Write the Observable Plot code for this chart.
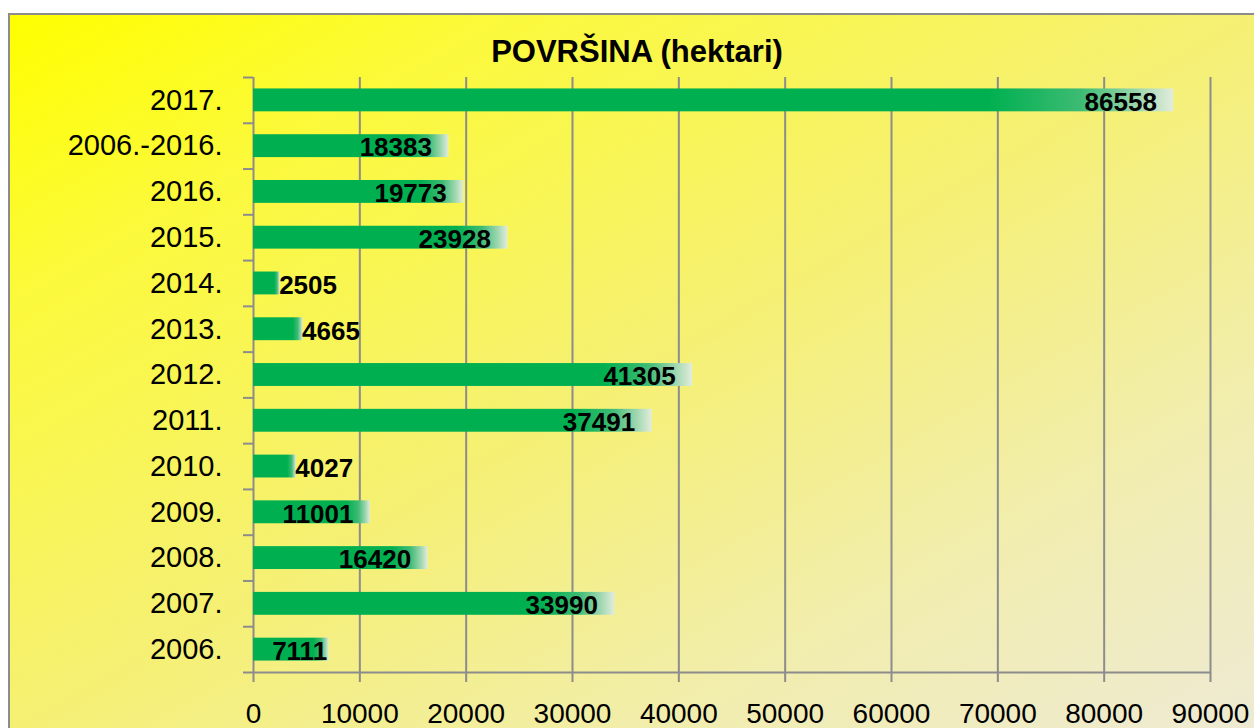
<!DOCTYPE html>
<html><head><meta charset="utf-8">
<script src="https://cdn.jsdelivr.net/npm/d3@7"></script>
<script src="https://cdn.jsdelivr.net/npm/@observablehq/plot@0.6"></script>
<style>
html,body{margin:0;padding:0;background:#fff;overflow:hidden;width:1254px;height:728px;}
#frame{position:absolute;left:8px;top:13px;width:1262px;height:730px;border:2px solid #8c8c8c;
 background:linear-gradient(to bottom right,#ffff00 0%,#fbf93c 20%,#f5f075 50%,#f1edb0 76%,#eeead6 100%);}
#title{position:absolute;left:0;top:17px;width:1254px;text-align:center;font:bold 31px/40px "Liberation Sans",sans-serif;color:#000;}
#chart{position:absolute;left:0;top:50px;}
</style></head>
<body>
<div id="frame">
  <div id="title">POVRŠINA (hektari)</div>
  <div id="chart"></div>
</div>
<script>
const categories = ["2017.", "2006.-2016.", "2016.", "2015.", "2014.", "2013.", "2012.", "2011.", "2010.", "2009.", "2008.", "2007.", "2006."];
const values = [86558, 18383, 19773, 23928, 2505, 4665, 41305, 37491, 4027, 11001, 16420, 33990, 7111];
const xTicks = [0, 10000, 20000, 30000, 40000, 50000, 60000, 70000, 80000, 90000];

const data = categories.map((c, i) => ({cat: c, value: values[i]}));

const W = 1252, H = 667, mT = 12, mB = 60, mL = 243, mR = 52;
const step = (H - mT - mB) / categories.length;
const grey = "#8c8c8c";

const plot = Plot.plot({
  width: W, height: H,
  marginTop: mT, marginBottom: mB, marginLeft: mL, marginRight: mR,
  style: {background: "transparent", fontFamily: "'Liberation Sans', sans-serif", color: "#000", overflow: "visible"},
  x: {domain: [xTicks[0], xTicks[xTicks.length - 1]]},
  y: {domain: categories, paddingInner: 0.5, paddingOuter: 0.25, round: false},
  marks: [
    Plot.ruleX(xTicks, {stroke: grey, strokeWidth: 2, insetBottom: -10}),
    Plot.ruleY(categories, {x1: 0, x2: 0, dy: -step / 2, insetLeft: -10, stroke: grey, strokeWidth: 2}),
    Plot.ruleY([categories[categories.length - 1]], {x1: 0, x2: xTicks[xTicks.length - 1], dy: step / 2, insetLeft: -10, stroke: grey, strokeWidth: 2}),
    Plot.barX(data, {x: "value", y: "cat", fill: "url(#barGrad)"}),
    Plot.text(data, {filter: d => d.value >= 9000, x: "value", y: "cat", text: d => String(d.value),
      textAnchor: "end", dx: -17, dy: 2, fontWeight: "bold", fontSize: 26, fill: "#000"}),
    Plot.text(data, {filter: d => d.value >= 6000 && d.value < 9000, x: "value", y: "cat", text: d => String(d.value),
      textAnchor: "end", dx: -2, dy: 2, fontWeight: "bold", fontSize: 26, fill: "#000"}),
    Plot.text(data, {filter: d => d.value < 6000, x: "value", y: "cat", text: d => String(d.value),
      textAnchor: "start", dx: -1, dy: 2, fontWeight: "bold", fontSize: 26, fill: "#000"}),
    Plot.axisX(xTicks, {tickSize: 0, tickPadding: 31, fontSize: 28, label: null, tickFormat: d => String(d)}),
    Plot.axisY({tickSize: 0, tickPadding: 31, fontSize: 29, label: null})
  ]
});

const ns = "http://www.w3.org/2000/svg";
const defs = document.createElementNS(ns, "defs");
defs.innerHTML = `<linearGradient id="barGrad" x1="0" y1="0" x2="1" y2="0">
  <stop offset="0" stop-color="#00b050"/>
  <stop offset="0.8" stop-color="#00b050"/>
  <stop offset="0.9" stop-color="#3dbb74"/>
  <stop offset="0.96" stop-color="#9bd6ad"/>
  <stop offset="1" stop-color="#e3ecdc"/>
</linearGradient>`;
plot.insertBefore(defs, plot.firstChild);
document.getElementById("chart").appendChild(plot);
</script>
</body></html>
